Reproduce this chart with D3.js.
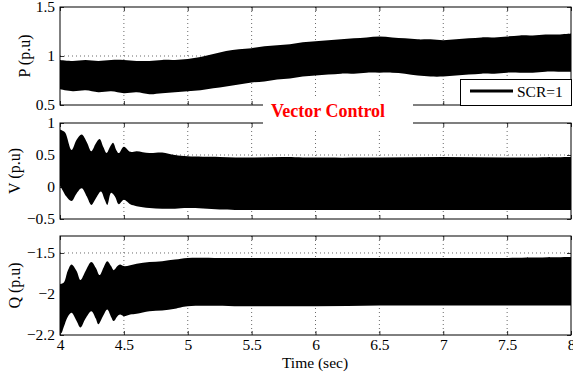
<!DOCTYPE html>
<html>
<head>
<meta charset="utf-8">
<script src="https://cdn.jsdelivr.net/npm/d3@7"></script>
<style>
  body { margin: 0; background: #fff; }
  svg text { font-family: "Liberation Serif", "DejaVu Serif", serif !important; }
</style>
</head>
<body>
<div id="chart-area"></div>
<script>
// envelopes of the (dense) oscillating signals
const timeTicks = [4, 4.5, 5, 5.5, 6, 6.5, 7, 7.5, 8];

const pTime = d3.range(41).map(i => 4 + i * 0.1);
const pTop = [0.96, 0.95, 0.96, 0.95, 0.96, 0.96, 0.95, 0.95, 0.96, 0.96,
  0.97, 0.99, 1.02, 1.05, 1.07, 1.08, 1.10, 1.11, 1.12, 1.14,
  1.15, 1.16, 1.17, 1.18, 1.19, 1.20, 1.19, 1.18, 1.17, 1.17,
  1.16, 1.17, 1.18, 1.19, 1.19, 1.20, 1.21, 1.21, 1.22, 1.22, 1.23];
const pBottom = [0.66, 0.64, 0.65, 0.63, 0.64, 0.62, 0.63, 0.61, 0.62, 0.63,
  0.64, 0.65, 0.67, 0.69, 0.71, 0.73, 0.74, 0.76, 0.77, 0.79,
  0.80, 0.81, 0.82, 0.82, 0.83, 0.83, 0.83, 0.82, 0.80, 0.79,
  0.79, 0.80, 0.81, 0.82, 0.82, 0.83, 0.83, 0.83, 0.84, 0.84, 0.84];

const vTopTime = [4.00, 4.01, 4.04, 4.09, 4.13, 4.17, 4.21, 4.245, 4.28, 4.31, 4.34, 4.365,
  4.39, 4.415, 4.44, 4.46, 4.50, 4.55, 4.60, 4.70, 4.80, 4.90, 5.00, 5.25, 5.50, 5.75,
  6.00, 6.50, 7.00, 7.50, 8.00];
const vTop = [0.90, 0.89, 0.85, 0.58, 0.74, 0.82, 0.70, 0.56, 0.68, 0.75, 0.62, 0.53,
  0.62, 0.69, 0.58, 0.53, 0.63, 0.55, 0.56, 0.53, 0.54, 0.50, 0.48, 0.47, 0.46, 0.47,
  0.46, 0.46, 0.47, 0.46, 0.47];
const vBottomTime = [4.00, 4.02, 4.05, 4.09, 4.13, 4.17, 4.21, 4.245, 4.28, 4.32, 4.35, 4.37,
  4.40, 4.43, 4.46, 4.50, 4.55, 4.60, 4.70, 4.80, 4.90, 5.00, 5.25, 5.50, 6.00, 6.50,
  7.00, 7.50, 8.00];
const vBottom = [0.02, -0.05, -0.15, -0.22, -0.10, -0.02, -0.15, -0.28, -0.18, -0.07, -0.20, -0.28,
  -0.09, -0.15, -0.27, -0.20, -0.27, -0.30, -0.33, -0.34, -0.34, -0.33, -0.35, -0.36, -0.36, -0.36,
  -0.36, -0.36, -0.36];

const qTopTime = [4.00, 4.03, 4.06, 4.09, 4.13, 4.16, 4.20, 4.245, 4.28, 4.31, 4.34, 4.37,
  4.40, 4.42, 4.45, 4.47, 4.50, 4.60, 4.70, 4.80, 4.90, 5.00, 5.25, 5.50, 6.00, 6.50,
  7.00, 7.50, 8.00];
const qTop = [-1.88, -1.86, -1.72, -1.64, -1.72, -1.83, -1.72, -1.61, -1.68, -1.77, -1.68, -1.60,
  -1.66, -1.71, -1.66, -1.64, -1.66, -1.63, -1.61, -1.60, -1.58, -1.56, -1.56, -1.56, -1.56, -1.56,
  -1.56, -1.56, -1.55];
const qBottomTime = [4.00, 4.01, 4.03, 4.06, 4.09, 4.13, 4.16, 4.20, 4.245, 4.28, 4.30, 4.34,
  4.37, 4.40, 4.42, 4.45, 4.47, 4.50, 4.55, 4.60, 4.70, 4.80, 4.90, 5.00, 5.50, 6.00,
  6.50, 7.00, 7.50, 8.00];
const qBottom = [-2.45, -2.48, -2.40, -2.28, -2.23, -2.33, -2.41, -2.30, -2.21, -2.30, -2.37, -2.26,
  -2.19, -2.28, -2.33, -2.27, -2.25, -2.27, -2.25, -2.24, -2.21, -2.20, -2.18, -2.15, -2.15, -2.15,
  -2.14, -2.14, -2.14, -2.14];

const pTicks = [0.5, 1, 1.5];
const vTicks = [-0.5, 0, 0.5, 1];
const qTicks = [-2.5, -2, -1.5];
const qTickLabels = ['\u22122.2', '\u22122', '\u22121.5'];

const width = 573;
const height = 380;
const left = 60;
const right = 571;
const serif = '"Liberation Serif", "DejaVu Serif", serif';
const fmt = d3.format('~g');
const minusFmt = d => fmt(d).replace('-', '\u2212');

const svg = d3.select('#chart-area').append('svg')
  .attr('width', width)
  .attr('height', height)
  .style('font-family', serif);

const x = d3.scaleLinear().domain([4, 8]).range([left, right]);

const panels = [
  { id: 'p', label: 'P (p.u)', labelX: 24, top: 7, bottom: 105, domain: [0.5, 1.5], ticks: pTicks,
    grid: [1], upT: pTime, up: pTop, loT: pTime, lo: pBottom },
  { id: 'v', label: 'V (p.u)', labelX: 14, top: 123, bottom: 219, domain: [-0.5, 1], ticks: vTicks,
    grid: [0, 0.5], upT: vTopTime, up: vTop, loT: vBottomTime, lo: vBottom },
  { id: 'q', label: 'Q (p.u)', labelX: 14, top: 236, bottom: 335, domain: [-2.5, -1.293], ticks: qTicks,
    grid: [-2, -1.5], upT: qTopTime, up: qTop, loT: qBottomTime, lo: qBottom,
    format: d => qTickLabels[qTicks.indexOf(d)], xLabels: true }
];

panels.forEach(p => {
  const y = d3.scaleLinear().domain(p.domain).range([p.bottom, p.top]);
  const g = svg.append('g');
  const curve = d3.curveCatmullRom.alpha(0.5);

  // clip: everything above the lower envelope
  svg.append('clipPath').attr('id', 'clip-' + p.id)
    .append('path')
      .attr('d', d3.area().curve(curve)
        .x(t => x(t)).y0(p.top).y1((t, i) => y(p.lo[i]))(p.loT));

  // grid
  g.selectAll('.vgrid').data(timeTicks.slice(1, -1)).enter().append('line')
    .attr('x1', d => x(d)).attr('x2', d => x(d))
    .attr('y1', p.top).attr('y2', p.bottom)
    .attr('stroke', '#444').attr('stroke-width', 0.8).attr('stroke-dasharray', '1,3');
  g.selectAll('.hgrid').data(p.grid).enter().append('line')
    .attr('x1', left).attr('x2', right)
    .attr('y1', d => y(d)).attr('y2', d => y(d))
    .attr('stroke', '#444').attr('stroke-width', 0.8).attr('stroke-dasharray', '1,3');

  // signal band: below the upper envelope, clipped to above the lower one
  g.append('path')
    .attr('clip-path', `url(#clip-${p.id})`)
    .attr('d', d3.area().curve(curve)
      .x(t => x(t)).y0(p.bottom).y1((t, i) => y(p.up[i]))(p.upT))
    .attr('fill', '#000');

  // axes with inward ticks
  const axB = g.append('g').attr('transform', `translate(0,${p.bottom})`)
    .call(d3.axisBottom(x).tickValues(timeTicks).tickSize(-4).tickPadding(4).tickFormat(fmt));
  if (!p.xLabels) axB.selectAll('text').remove();
  g.append('g').attr('transform', `translate(0,${p.top})`)
    .call(d3.axisTop(x).tickValues(timeTicks).tickSize(-4).tickFormat(''));
  const axL = d3.axisLeft(y).tickValues(p.ticks).tickSize(-4).tickPadding(5)
    .tickFormat(p.format || minusFmt);
  g.append('g').attr('transform', `translate(${left},0)`).call(axL);
  g.append('g').attr('transform', `translate(${right},0)`)
    .call(d3.axisRight(y).tickValues(p.ticks).tickSize(-4).tickFormat(''));
  g.selectAll('.domain').remove();
  g.selectAll('.tick line').attr('stroke', '#000').attr('stroke-width', 0.8);
  g.selectAll('g').attr('font-family', serif);
  g.selectAll('.tick text')
    .attr('font-family', serif)
    .attr('font-size', 15.5)
    .attr('fill', '#000');

  g.append('rect')
    .attr('x', left).attr('y', p.top)
    .attr('width', right - left).attr('height', p.bottom - p.top)
    .attr('fill', 'none').attr('stroke', '#000').attr('stroke-width', 1);

  g.append('text')
    .text(p.label)
    .attr('transform', `translate(${p.labelX},${(p.top + p.bottom) / 2}) rotate(-90)`)
    .attr('text-anchor', 'middle')
    .attr('dy', '0.35em')
    .attr('font-family', serif)
    .attr('font-size', 16);
});

// legend
svg.append('rect')
  .attr('x', 460.5).attr('y', 79.5).attr('width', 111).attr('height', 26)
  .attr('fill', '#fff').attr('stroke', '#000').attr('stroke-width', 1);
svg.append('line')
  .attr('x1', 470).attr('x2', 513).attr('y1', 91).attr('y2', 91)
  .attr('stroke', '#000').attr('stroke-width', 3);
svg.append('text')
  .text('SCR=1')
  .attr('x', 517).attr('y', 97)
  .attr('font-family', serif)
  .attr('font-size', 15.5);

// panel caption
svg.append('rect')
  .attr('x', 263).attr('y', 98).attr('width', 150).attr('height', 30)
  .attr('fill', '#fff');
svg.append('text')
  .text('Vector Control')
  .attr('x', 328).attr('y', 117)
  .attr('text-anchor', 'middle')
  .attr('font-family', serif)
  .attr('font-size', 18)
  .attr('font-weight', 'bold')
  .attr('fill', '#ff0000');

svg.append('text')
  .text('Time (sec)')
  .attr('x', 315).attr('y', 368)
  .attr('text-anchor', 'middle')
  .attr('font-family', serif)
  .attr('font-size', 15.5);
</script>
</body>
</html>
